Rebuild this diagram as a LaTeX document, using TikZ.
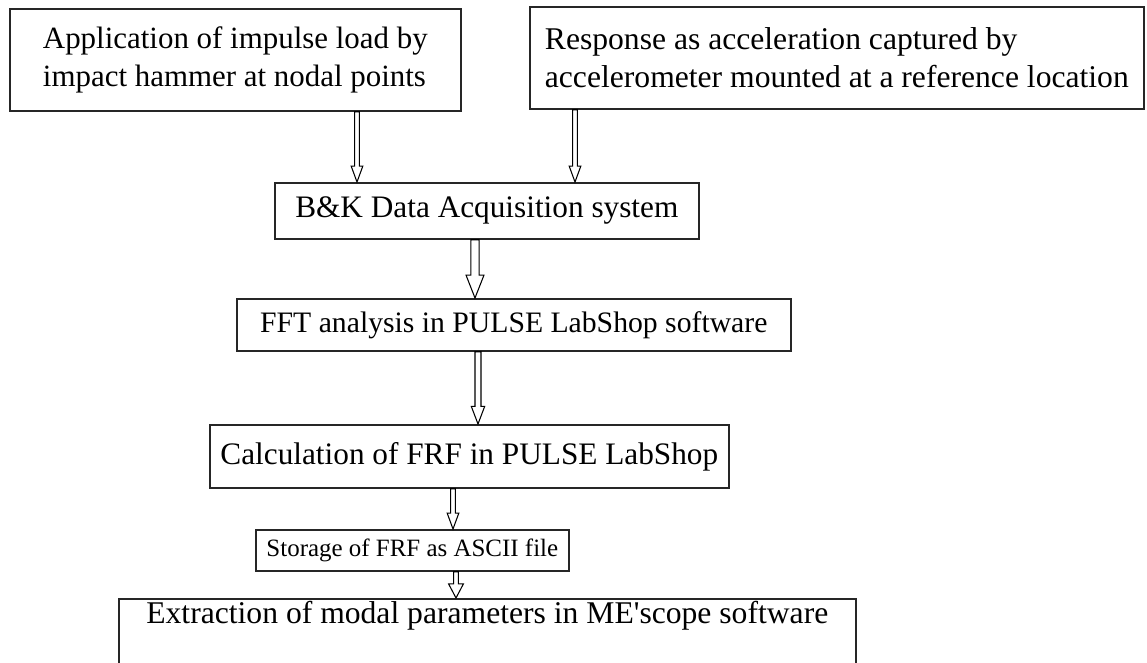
\documentclass[tikz,border=0pt]{standalone}
\usepackage{fontspec}
\setmainfont{Liberation Serif}
\newfontfamily\plainserif{Liberation Serif}
\usetikzlibrary{calc}
\begin{document}
\begin{tikzpicture}[x=0.02cm, y=-0.02cm,
    box/.style={draw=black!85, line width=1pt, anchor=north west, align=left, inner sep=0pt, font=\fontsize{#1}{21.5}\selectfont},
    box/.default=17.8,
    blockarrow/.style n args={3}{fill=white, draw=black, line width=0.6pt, to path={let \p1=(\tikztostart), \p2=(\tikztotarget) in
        (\x1-#1,\y1) -- (\x1-#1,\y2+#3) -- (\x1-#2,\y2+#3) -- (\x1,\y2) -- (\x1+#2,\y2+#3) -- (\x1+#1,\y2+#3) -- (\x1+#1,\y1) -- cycle}}
]
    \useasboundingbox (0,0) rectangle (1147,663);
    \node[box=17.6, minimum width=9.02cm, minimum height=2.04cm] (app) at (9,8) {Application of impulse load by\\impact hammer at nodal points};
    \node[box=18, minimum width=12.28cm, minimum height=2.04cm] (resp) at (529,6) {Response as acceleration captured by\\accelerometer mounted at a reference location};
    \node[box, minimum width=8.48cm, minimum height=1.12cm] (daq) at (274,182) {B\&K Data Acquisition system};
    \node[box=16.9, minimum width=11.08cm, minimum height=1.04cm] (fft) at (236,298) {FFT analysis in PULSE LabShop software};
    \node[box, minimum width=10.38cm, minimum height=1.26cm] (frf) at (209,424) {Calculation of FRF in PULSE LabShop};
    \node[box=14.2, minimum width=6.26cm, minimum height=0.82cm] (ascii) at (255,529) {Storage of FRF as ASCII file};
    \node[box=18, minimum width=14.74cm, text height=14pt, text depth=1.3cm] (modal) at (118,598) {Extraction of modal parameters in ME{\plainserif '}scope software};
    \draw[blockarrow={1.4pt}{3.3pt}{9pt}] (app.south -| 357,0) to (daq.north -| 357,0);
    \draw[blockarrow={1.4pt}{3.3pt}{9pt}] (resp.south -| 575,0) to (daq.north -| 575,0);
    \draw[blockarrow={2.3pt}{5.1pt}{13pt}] (daq.south -| 475,0) to (fft.north -| 475,0);
    \draw[blockarrow={1.7pt}{3.8pt}{10pt}] (fft.south -| 478,0) to (frf.north -| 478,0);
    \draw[blockarrow={1.4pt}{3.3pt}{9pt}] (frf.south -| 453,0) to (ascii.north -| 453,0);
    \draw[blockarrow={1.4pt}{4.2pt}{8pt}] (ascii.south -| 456,0) to (modal.north -| 456,0);
\end{tikzpicture}
\end{document}
